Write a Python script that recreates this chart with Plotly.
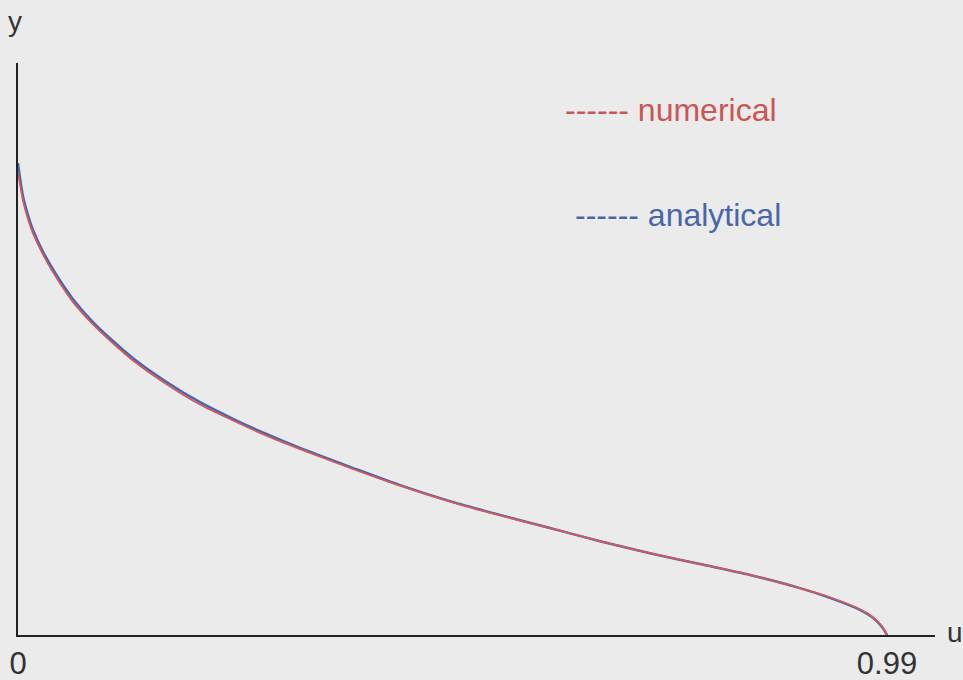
import plotly.graph_objects as go

# data (u in [0, 0.99], y normalised to the axis height)
u_vals = [0.0, 0.0023, 0.0057, 0.0114, 0.0171, 0.0285, 0.0444, 0.0627, 0.0854, 0.1082,
          0.1310, 0.1697, 0.2073, 0.2449, 0.2836, 0.3212, 0.3782, 0.4351, 0.4921, 0.5490,
          0.6060, 0.6630, 0.7199, 0.7769, 0.8339, 0.8908, 0.9250, 0.9592, 0.9740, 0.9843, 0.99]
y_analytical = [0.825, 0.799, 0.767, 0.734, 0.708, 0.670, 0.628, 0.587, 0.547, 0.514,
                0.484, 0.442, 0.407, 0.378, 0.351, 0.327, 0.294, 0.262, 0.234, 0.210,
                0.187, 0.164, 0.143, 0.124, 0.105, 0.082, 0.065, 0.044, 0.030, 0.014, 0.0]
y_numerical = [0.808, 0.788, 0.759, 0.727, 0.702, 0.665, 0.623, 0.582, 0.543, 0.510,
               0.480, 0.438, 0.403, 0.375, 0.348, 0.325, 0.292, 0.261, 0.233, 0.209,
               0.187, 0.164, 0.143, 0.124, 0.105, 0.082, 0.066, 0.045, 0.031, 0.015, 0.0]
tick_vals = [0, 0.99]
tick_text = ["0", "0.99"]

BG = "#ebebeb"
RED = "#d45a5a"
BLUE = "#4866ad"
FAMILY = "Liberation Sans, Arial, sans-serif"

fig = go.Figure()
fig.add_trace(go.Scatter(x=u_vals, y=y_analytical, mode="lines", name="analytical",
                         line=dict(color=BLUE, width=2.5, shape="spline", smoothing=0.8)))
fig.add_trace(go.Scatter(x=u_vals, y=y_numerical, mode="lines", name="numerical",
                         line=dict(color=RED, width=1.8, shape="spline", smoothing=0.8)))

font = dict(family=FAMILY, size=28, color="#333333")
tfont = dict(family=FAMILY, size=31, color="#333333")

fig.update_layout(
    width=963, height=680,
    margin=dict(l=18, r=28, t=63, b=45, autoexpand=False),
    paper_bgcolor=BG, plot_bgcolor=BG,
    showlegend=False,
    font=font,
    xaxis=dict(range=[0, 0.99 * 917 / 869], showline=True, linecolor="#222222", linewidth=2,
               showgrid=False, zeroline=False, ticks="", tickvals=tick_vals,
               ticktext=tick_text, tickfont=tfont, ticklabelstandoff=0,
               automargin=False, fixedrange=True),
    yaxis=dict(range=[0, 1], showline=True, linecolor="#222222", linewidth=2,
               showgrid=False, zeroline=False, ticks="", showticklabels=False,
               automargin=False, fixedrange=True),
    annotations=[
        dict(text="------ numerical", xref="paper", yref="paper", x=0.594, y=0.918,
             xanchor="left", yanchor="middle", showarrow=False,
             font=dict(family=FAMILY, size=32, color="#cc5555")),
        dict(text="------ analytical", xref="paper", yref="paper", x=0.605, y=0.734,
             xanchor="left", yanchor="middle", showarrow=False,
             font=dict(family=FAMILY, size=32, color="#4a66aa")),
        dict(text="y", xref="paper", yref="paper", x=-0.003, y=1.072,
             xanchor="center", yanchor="middle", showarrow=False, font=font),
        dict(text="u", xref="paper", yref="paper", x=1.022, y=0.005,
             xanchor="center", yanchor="middle", showarrow=False, font=font),
    ],
)

fig.write_html("out.html", config={"displayModeBar": False},
               post_script="document.body.style.margin='0';document.body.style.overflow='hidden';")
